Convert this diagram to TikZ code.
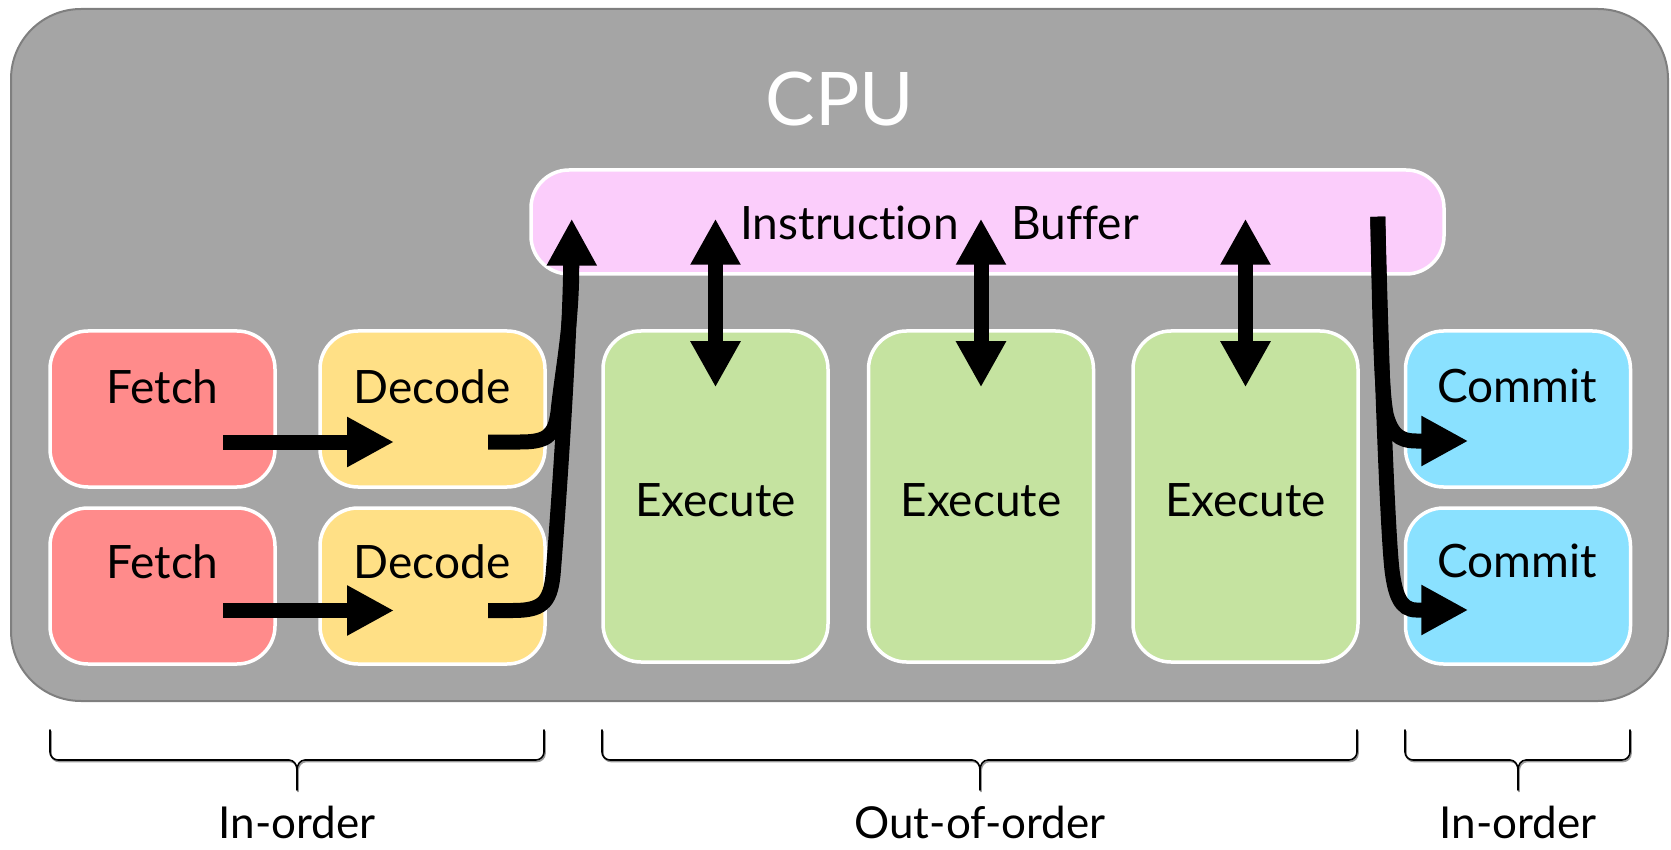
\documentclass[tikz,border=0pt]{standalone}
\usepackage{fontspec}
\setmainfont{Lato}[Ligatures={NoCommon}]
\usetikzlibrary{arrows.meta,calc}
\definecolor{cpugray}{HTML}{A5A5A5}
\definecolor{cpuedge}{HTML}{7F7F7F}
\definecolor{fetchc}{HTML}{FF8B8B}
\definecolor{decodec}{HTML}{FFE086}
\definecolor{execc}{HTML}{C5E3A0}
\definecolor{commitc}{HTML}{8AE1FF}
\definecolor{bufc}{HTML}{FBCDFB}
% brace under a group of stages: left x, middle x, right x
\newcommand\curlybr[3]{%
  \draw[brc,draw=black!40,shift={(1,1.5)}] (#1,730) -- (#1,752) to[out=-90,in=180] ({#1+8},760) -- ({#2-8},760)
    to[out=0,in=90] (#2,770) -- (#2,790) (#2,770) to[out=90,in=180] ({#2+8},760) -- ({#3-8},760)
    to[out=0,in=-90] (#3,752) -- (#3,730);
  \draw[brc] (#1,730) -- (#1,752) to[out=-90,in=180] ({#1+8},760) -- ({#2-8},760)
    to[out=0,in=90] (#2,770) -- (#2,790) (#2,770) to[out=90,in=180] ({#2+8},760) -- ({#3-8},760)
    to[out=0,in=-90] (#3,752) -- (#3,730);}
\begin{document}
\begin{tikzpicture}[x=1pt,y=-1pt,
  stage/.style={draw=white,line width=3.5pt,rounded corners=38pt,minimum width=225pt,minimum height=156pt,inner sep=0pt},
  txt/.style={anchor=base,inner sep=0pt,font=\fontsize{46}{54}\selectfont},
  flow/.style={line width=15pt,-{Triangle[length=47pt,width=47pt]}},
  twoway/.style={line width=15pt,{Triangle[length=46pt,width=47pt]}-{Triangle[length=46pt,width=47pt]}},
  pipe/.style={line width=15pt},
  brc/.style={line width=1.6pt,line cap=round,line join=round}]
\useasboundingbox (0,0) rectangle (1671,850);

% processor frame
\node[draw=cpuedge,fill=cpugray,line width=2pt,rounded corners=70pt,minimum width=1657pt,minimum height=692pt,inner sep=0pt] (cpu) at (839.5,355) {};
\node[txt,text=white,font=\fontsize{74}{80}\selectfont] (cpulbl) at (840,126) {CPU};

% instruction buffer
\node[stage,fill=bufc,minimum width=913pt,minimum height=104pt] (buf) at (987.5,222) {};
\node[txt] (ib1) at (849.5,240) {Instruction};
\node[txt] (ib2) at (1075,240) {Buffer};

% pipeline stages
\node[stage,fill=fetchc] (f1) at (162.5,409) {};
\node[stage,fill=fetchc] (f2) at (162.5,586) {};
\node[stage,fill=decodec] (d1) at (432.5,409) {};
\node[stage,fill=decodec] (d2) at (432.5,586) {};
\node[stage,fill=execc,minimum height=331pt] (e1) at (715.5,496.5) {};
\node[stage,fill=execc,minimum height=331pt] (e2) at (981,496.5) {};
\node[stage,fill=execc,minimum height=331pt] (e3) at (1245.5,496.5) {};
\node[stage,fill=commitc] (c1) at (1518,409) {};
\node[stage,fill=commitc] (c2) at (1518,586) {};

\node[txt] (tf1) at (162.5,403) {Fetch};
\node[txt] (tf2) at (162.5,578) {Fetch};
\node[txt] (td1) at (432,403) {Decode};
\node[txt] (td2) at (432,578) {Decode};
\node[txt] (te1) at (715.5,516) {Execute};
\node[txt] (te2) at (981,516) {Execute};
\node[txt] (te3) at (1245.5,516) {Execute};
\node[txt] (tc1) at (1517,402) {Commit};
\node[txt] (tc2) at (1517,577) {Commit};

% fetch -> decode
\draw[flow] ($(f1.center)+(60.5,33)$) -- ($(d1.center)+(-38.5,33)$);
\draw[flow] ($(f2.center)+(60.5,24.5)$) -- ($(d2.center)+(-38.5,24.5)$);

% decode -> buffer (two streams merging)
\coordinate (upTip) at ($(buf.south west)+(42.5,-57)$);
\draw[pipe] ($(d2.center)+(55.5,24.5)$) -- ++(25,0)
  .. controls +(28,0) and +(-3,28) .. ++(40,-35)
  .. controls +(5,-60) and +(-1,80) .. ($(upTip)+(-1,45)$);
\draw[flow] ($(d1.center)+(55.5,33)$) -- ++(32,0)
  .. controls +(25,0) and +(-3,25) .. ++(38,-30)
  .. controls +(4,-40) and +(0,60) .. ($(upTip)+(0,48)$) -- (upTip);

% buffer <-> execute units
\draw[twoway] ($(e1.north |- buf.south)+(0,-57)$) -- ($(e1.north)+(0,58)$);
\draw[twoway] ($(e2.north |- buf.south)+(0,-57)$) -- ($(e2.north)+(0,58)$);
\draw[twoway] ($(e3.north |- buf.south)+(0,-57)$) -- ($(e3.north)+(0,58)$);

% buffer -> commit
\coordinate (outTop) at ($(buf.south east)+(-68,-59)$);
\draw[flow] (outTop) .. controls +(2,105) and +(-5,-25) .. ($(c1.west)+(-17.5,6)$)
  .. controls +(5,18) and +(-18,0) .. ($(c1.west)+(12.5,32)$) -- ($(c1.west)+(64.5,32)$);
\draw[flow] (outTop) .. controls +(4,165) and +(-4,-30) .. ($(c2.west)+(-11.5,-14)$)
  .. controls +(3,22) and +(-16,0) .. ($(c2.west)+(12.5,24)$) -- ($(c2.west)+(64.5,24)$);

% ordering braces
\curlybr{50}{297}{544}
\curlybr{602}{980}{1357}
\curlybr{1405}{1518}{1630}
\node[txt,font=\fontsize{44}{50}\selectfont] (lo1) at (297,838) {In-order};
\node[txt,font=\fontsize{44}{50}\selectfont] (lo2) at (980,838) {Out-of-order};
\node[txt,font=\fontsize{44}{50}\selectfont] (lo3) at (1518,838) {In-order};
\end{tikzpicture}
\end{document}
